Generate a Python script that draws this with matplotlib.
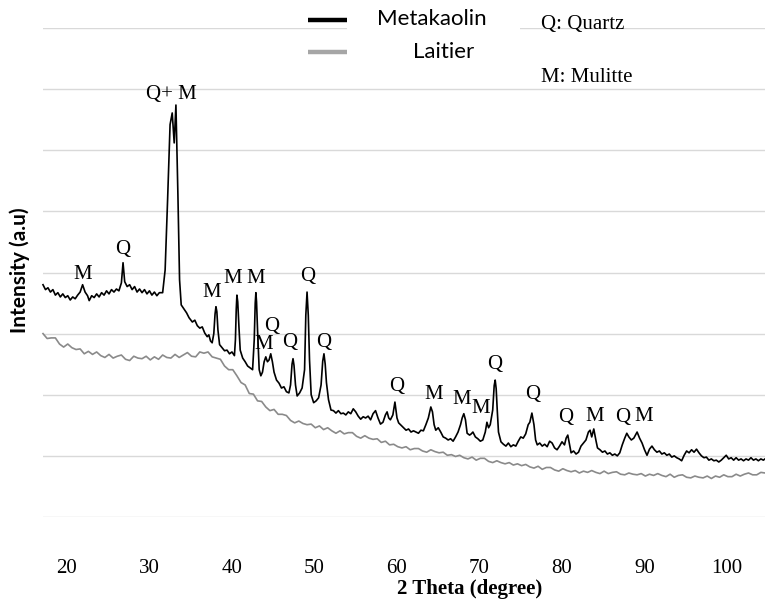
import numpy as np
import matplotlib
matplotlib.use("Agg")
import matplotlib.pyplot as plt
from matplotlib.lines import Line2D
from matplotlib.patches import Rectangle

# ---- Metakaolin diffractogram: 2-theta (deg) and intensity (counts) ----
mk_2theta = [
    17.1, 17.4, 17.7, 18.0, 18.3, 18.6, 18.9, 19.2, 19.5, 19.8, 20.1, 20.4, 20.7, 21.0,
    21.3, 21.6, 21.9, 22.2, 22.5, 22.7, 23.0, 23.3, 23.6, 23.9, 24.2, 24.5, 24.8, 25.1,
    25.4, 25.7, 26.0, 26.3, 26.6, 26.8, 27.0, 27.3, 27.6, 27.9, 28.2, 28.5, 28.8, 29.1,
    29.4, 29.7, 30.0, 30.3, 30.6, 30.9, 31.2, 31.6, 31.9, 32.2, 32.5, 32.76, 33.0, 33.21,
    33.45, 33.65, 33.85, 34.2, 34.5, 34.8, 35.2, 35.5, 35.8, 36.1, 36.4, 36.7, 37.0, 37.2,
    37.4, 37.6, 37.8, 37.95, 38.06, 38.17, 38.3, 38.5, 38.8, 39.1, 39.4, 39.7, 40.0, 40.3,
    40.42, 40.52, 40.6, 40.7, 40.85, 41.0, 41.3, 41.6, 41.9, 42.2, 42.5, 42.7, 42.82, 42.9,
    42.98, 43.1, 43.3, 43.5, 43.7, 43.9, 44.1, 44.3, 44.5, 44.7, 44.9, 45.1, 45.4, 45.7,
    46.0, 46.3, 46.6, 46.9, 47.1, 47.28, 47.4, 47.52, 47.7, 47.9, 48.2, 48.5, 48.8, 48.95,
    49.1, 49.25, 49.4, 49.6, 49.9, 50.2, 50.5, 50.8, 51.0, 51.15, 51.3, 51.45, 51.7, 52.0,
    52.3, 52.6, 52.9, 53.2, 53.5, 53.8, 54.1, 54.4, 54.7, 55.0, 55.3, 55.6, 55.9, 56.2,
    56.5, 56.8, 57.1, 57.4, 57.7, 58.0, 58.3, 58.6, 58.8, 59.0, 59.2, 59.5, 59.75, 60.0,
    60.2, 60.5, 60.8, 61.1, 61.4, 61.7, 62.0, 62.3, 62.6, 62.9, 63.2, 63.5, 63.8, 64.1,
    64.3, 64.5, 64.7, 65.0, 65.3, 65.6, 65.9, 66.2, 66.5, 66.8, 67.1, 67.4, 67.7, 67.9,
    68.1, 68.3, 68.5, 68.8, 69.0, 69.2, 69.5, 69.8, 70.1, 70.4, 70.7, 70.9, 71.1, 71.3,
    71.6, 71.78, 71.9, 72.02, 72.15, 72.3, 72.6, 72.9, 73.2, 73.5, 73.8, 74.1, 74.4, 74.7,
    75.0, 75.3, 75.6, 75.9, 76.1, 76.35, 76.6, 76.8, 77.0, 77.3, 77.6, 77.9, 78.2, 78.5,
    78.8, 79.1, 79.4, 79.7, 80.0, 80.3, 80.5, 80.7, 80.9, 81.1, 81.4, 81.7, 82.0, 82.3,
    82.6, 82.9, 83.2, 83.4, 83.6, 83.85, 84.1, 84.3, 84.6, 84.9, 85.2, 85.5, 85.8, 86.1,
    86.4, 86.7, 87.0, 87.3, 87.6, 87.85, 88.1, 88.4, 88.7, 89.1, 89.4, 89.7, 90.0, 90.3,
    90.6, 90.9, 91.2, 91.5, 91.8, 92.1, 92.4, 92.7, 93.0, 93.3, 93.6, 93.9, 94.2, 94.5,
    94.8, 95.1, 95.4, 95.7, 96.0, 96.3, 96.6, 96.9, 97.2, 97.5, 97.8, 98.1, 98.4, 98.7,
    99.0, 99.3, 99.6, 99.9, 100.2, 100.5, 100.8, 101.1, 101.4, 101.7, 102.0, 102.3, 102.6,
    102.9, 103.2, 103.5, 103.8, 104.1, 104.4, 104.6,
]
mk_counts = [
    380, 372, 375, 368, 372, 363, 367, 360, 365, 359, 362, 355, 360, 357,
    363, 368, 380, 368, 362, 354, 362, 359, 365, 360, 367, 363, 370, 365,
    372, 368, 373, 370, 383, 416, 385, 377, 380, 372, 377, 368, 373, 367,
    372, 365, 370, 363, 368, 362, 367, 367, 404, 519, 642, 661, 612, 674,
    527, 388, 347, 340, 334, 326, 319, 322, 313, 309, 311, 301, 295, 298,
    288, 285, 300, 332, 344, 336, 306, 282, 277, 272, 273, 267, 270, 264,
    290, 340, 363, 352, 310, 273, 260, 254, 247, 244, 241, 290, 350, 367,
    352, 306, 241, 231, 237, 254, 262, 254, 257, 267, 254, 237, 224, 219,
    211, 213, 205, 203, 216, 250, 259, 248, 216, 198, 203, 211, 241, 330,
    368, 330, 257, 200, 187, 190, 195, 216, 255, 267, 250, 220, 192, 175,
    174, 170, 174, 169, 170, 167, 172, 169, 177, 172, 165, 160, 164, 162,
    165, 159, 169, 174, 162, 152, 155, 167, 172, 162, 159, 167, 188, 162,
    154, 150, 146, 142, 144, 139, 141, 139, 137, 142, 141, 151, 162, 180,
    172, 151, 142, 146, 139, 131, 129, 126, 128, 124, 131, 139, 151, 162,
    169, 159, 137, 134, 136, 139, 131, 128, 124, 126, 139, 155, 146, 151,
    175, 215, 224, 210, 175, 139, 123, 119, 116, 121, 115, 118, 116, 124,
    131, 129, 136, 151, 155, 170, 151, 126, 118, 121, 116, 119, 115, 124,
    121, 113, 110, 116, 123, 118, 129, 134, 119, 105, 108, 103, 106, 116,
    121, 126, 139, 142, 131, 144, 126, 113, 110, 106, 108, 103, 105, 101,
    103, 100, 105, 118, 129, 137, 131, 126, 129, 139, 129, 121, 110, 101,
    111, 116, 110, 106, 108, 103, 105, 101, 103, 98, 100, 97, 95, 92,
    101, 108, 105, 110, 106, 111, 105, 100, 97, 98, 93, 95, 92, 93,
    90, 93, 97, 101, 95, 97, 93, 97, 93, 95, 92, 95, 93,
    97, 93, 95, 92, 95, 93, 95,
]

# ---- Laitier (slag) diffractogram, step scan of 0.5 deg from 17.1 deg ----
lt_start, lt_step = 17.1, 0.5
lt_counts = [
    300, 292, 293, 293, 283, 278, 283, 277, 274, 275, 267, 271, 266, 270, 264, 261,
    266, 260, 263, 265, 258, 256, 263, 260, 259, 263, 257, 262, 258, 265, 261, 260,
    266, 261, 265, 269, 263, 262, 270, 268, 270, 262, 260, 258, 247, 241, 241, 231,
    220, 216, 202, 201, 190, 189, 180, 174, 176, 168, 168, 166, 158, 154, 157, 153,
    151, 152, 146, 149, 143, 146, 141, 137, 141, 136, 138, 138, 132, 129, 133, 129,
    127, 128, 122, 124, 118, 119, 115, 113, 115, 110, 112, 112, 108, 106, 110, 107,
    105, 106, 101, 102, 99, 101, 97, 95, 98, 93, 96, 96, 91, 89, 92, 89,
    87, 89, 85, 87, 84, 86, 82, 80, 83, 78, 81, 81, 77, 75, 79, 76,
    74, 76, 72, 75, 73, 76, 73, 71, 75, 71, 73, 74, 70, 69, 72, 70,
    69, 71, 67, 70, 68, 71, 68, 66, 70, 65, 68, 69, 65, 64, 67, 65,
    64, 67, 63, 67, 65, 69, 66, 66, 70, 67, 70, 72, 69, 69, 73, 72,
]
lt_2theta = lt_start + lt_step * np.arange(len(lt_counts))

# ---- Phase markers (Q: quartz, M: mullite) ----
label_text = ["M", "Q", "Q+ M", "M", "M", "M", "M", "Q", "Q", "Q", "Q",
              "Q", "M", "M", "M", "Q", "Q", "Q", "M", "Q", "M"]
label_2theta = [21.9, 26.7, 32.7, 37.6, 40.1, 42.9, 43.8, 44.85, 47.0, 49.2, 51.15,
                60.0, 64.4, 67.9, 70.1, 71.8, 76.4, 80.5, 83.9, 87.3, 89.9]
label_y = [396, 437, 691, 367, 391, 390, 282, 311, 285, 393, 286,
           213, 200, 192, 178, 249, 200, 162, 164, 162, 164]

x_ticks = [20, 30, 40, 50, 60, 70, 80, 90, 100]

SERIF = "Liberation Serif"
SANS = "Lato"

W, H = 765, 605
fig = plt.figure(figsize=(W / 100, H / 100), dpi=100)
fig.patch.set_facecolor("white")

def fx(px):
    return px / W

def fy(py):
    return 1 - py / H

ax = fig.add_axes([fx(43), fy(517), fx(765) - fx(43), fy(28) - fy(517)])
ax.set_xlim(17.1, 104.6)
ax.set_ylim(0, 800)
ax.set_yticks(np.arange(0, 801, 100))
ax.set_yticklabels([])
ax.grid(axis="y", color="#d9d9d9", lw=1.0, zorder=0)
for s in ax.spines.values():
    s.set_visible(False)
ax.tick_params(axis="both", length=0)
ax.tick_params(axis="x", pad=30)
ax.set_xticks(x_ticks)
ax.set_xticklabels([str(v) for v in x_ticks], fontfamily=SERIF, fontsize=15)

ax.plot(lt_2theta, lt_counts, color="#8a8a8a", lw=1.2, zorder=2, clip_on=False)
ax.plot(mk_2theta, mk_counts, color="black", lw=1.2, zorder=3, clip_on=False)

for t, x, y in zip(label_text, label_2theta, label_y):
    ax.text(x, y, t, ha="center", va="center", fontfamily=SERIF, fontsize=15,
            color="black", zorder=4)

# legend block (white box over the top grid line)
fig.add_artist(Rectangle((fx(347), fy(66)), fx(520) - fx(347), fy(4) - fy(66),
                         transform=fig.transFigure, facecolor="white",
                         edgecolor="none", zorder=1))
fig.add_artist(Line2D([fx(308), fx(347)], [fy(20), fy(20)], transform=fig.transFigure,
                      color="black", lw=3.2, solid_capstyle="butt", zorder=2))
fig.add_artist(Line2D([fx(308), fx(347)], [fy(52), fy(52)], transform=fig.transFigure,
                      color="#a6a6a6", lw=3.2, solid_capstyle="butt", zorder=2))
fig.text(fx(377), fy(19), "Metakaolin", ha="left", va="center", fontfamily=SANS,
         fontsize=16, zorder=3)
fig.text(fx(413), fy(52), "Laitier", ha="left", va="center", fontfamily=SANS,
         fontsize=16, zorder=3)
fig.text(fx(541), fy(24), "Q: Quartz", ha="left", va="center", fontfamily=SERIF,
         fontsize=15, zorder=3)
fig.text(fx(541), fy(77), "M: Mulitte", ha="left", va="center", fontfamily=SERIF,
         fontsize=15, zorder=3)

fig.text(fx(470), fy(589), "2 Theta (degree)", ha="center", va="center",
         fontfamily=SERIF, fontweight="bold", fontsize=15)
fig.text(fx(20), fy(270), "Intensity (a.u)", ha="center", va="center", rotation=90,
         fontfamily=SANS, fontweight="bold", fontsize=15)

fig.savefig("out.png", dpi=100, facecolor="white")
